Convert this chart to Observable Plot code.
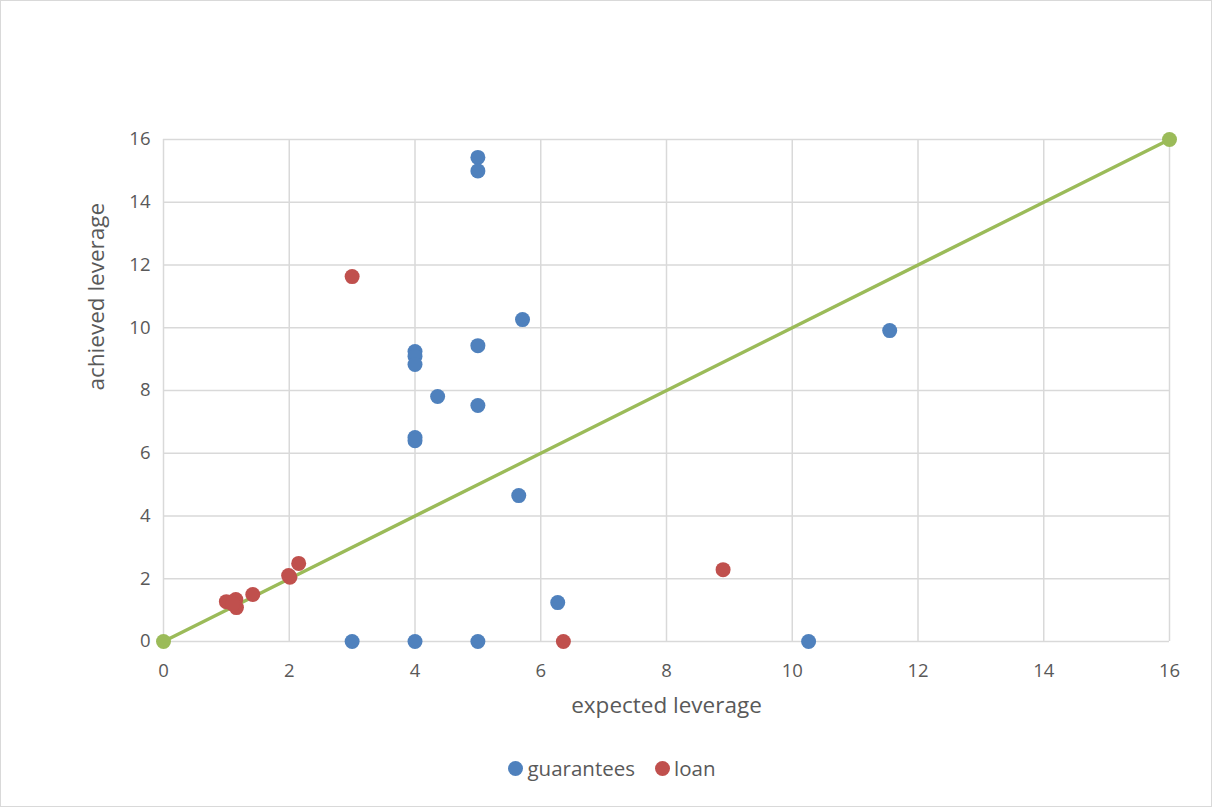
<!DOCTYPE html>
<html>
<head>
<meta charset="utf-8">
<script src="https://cdn.jsdelivr.net/npm/d3@7"></script>
<script src="https://cdn.jsdelivr.net/npm/@observablehq/plot@0.6"></script>
<style>
  html, body { margin: 0; padding: 0; background: #fff; }
  #frame { width: 1212px; height: 807px; box-sizing: border-box; border: 1px solid #d9d9d9; background: #fff; font-family: "Open Sans", sans-serif; }
  #legend { height: 44px; display: flex; justify-content: center; align-items: center; gap: 20px; font-size: 20.5px; color: #595959; padding-left: 12px; box-sizing: border-box; }
  .item { display: flex; align-items: center; gap: 4px; }
  .sw { width: 15px; height: 15px; border-radius: 50%; display: inline-block; }
</style>
</head>
<body>
<div id="frame">
  <div id="chart"></div>
  <div id="legend"></div>
</div>
<script>
const guaranteesX = [5, 5, 5.71, 11.55, 5, 4, 4, 4, 4.36, 5, 4, 4, 5.65, 6.27, 3, 4, 5, 10.26];
const guaranteesY = [15.43, 15.0, 10.26, 9.91, 9.43, 9.24, 9.08, 8.83, 7.81, 7.52, 6.5, 6.4, 4.65, 1.24, 0, 0, 0, 0];
const loanX = [1.0, 1.15, 1.16, 1.1, 1.42, 1.99, 2.01, 2.15, 3.0, 8.9, 6.36];
const loanY = [1.27, 1.34, 1.08, 1.2, 1.5, 2.1, 2.05, 2.49, 11.63, 2.29, 0];
const lineX = [0, 16];
const lineY = [0, 16];
const ticks = [0, 2, 4, 6, 8, 10, 12, 14, 16];
const seriesNames = ["guarantees", "loan"];
const colors = ["#4F81BD", "#C0504D"];
const lineColor = "#9BBB59";

const guarantees = guaranteesX.map((x, i) => ({x, y: guaranteesY[i]}));
const loan = loanX.map((x, i) => ({x, y: loanY[i]}));
const line = lineX.map((x, i) => ({x, y: lineY[i]}));

const chart = Plot.plot({
  width: 1210,
  height: 745,
  marginLeft: 162,
  marginRight: 42,
  marginTop: 138,
  marginBottom: 105,
  style: { fontFamily: "Open Sans, sans-serif", background: "#fff" },
  x: { domain: [0, 16] },
  y: { domain: [0, 16] },
  marks: [
    Plot.gridX(ticks, { stroke: "#d9d9d9", strokeOpacity: 1, strokeWidth: 1.5 }),
    Plot.gridY(ticks, { stroke: "#d9d9d9", strokeOpacity: 1, strokeWidth: 1.5 }),
    Plot.axisX(ticks, { tickSize: 0, tickPadding: 22, fontSize: 18.5, fill: "#595959", label: null }),
    Plot.axisY(ticks, { tickSize: 0, tickPadding: 13, fontSize: 18.5, fill: "#595959", label: null }),
    Plot.text(["expected leverage"], { frameAnchor: "bottom", dy: 71, fontSize: 22.5, fill: "#595959" }),
    Plot.text(["achieved leverage"], { frameAnchor: "left", dx: -67, rotate: -90, fontSize: 22.5, fill: "#595959" }),
    Plot.line(line, { x: "x", y: "y", stroke: lineColor, strokeWidth: 3.5 }),
    Plot.dot(line, { x: "x", y: "y", r: 7.5, fill: lineColor }),
    Plot.dot(guarantees, { x: "x", y: "y", r: 7.5, fill: colors[0] }),
    Plot.dot(loan, { x: "x", y: "y", r: 7.5, fill: colors[1] })
  ]
});
document.getElementById("chart").appendChild(chart);

const legend = document.getElementById("legend");
seriesNames.forEach((name, i) => {
  const item = document.createElement("div");
  item.className = "item";
  const sw = document.createElement("span");
  sw.className = "sw";
  sw.style.background = colors[i];
  const t = document.createElement("span");
  t.textContent = name;
  item.appendChild(sw);
  item.appendChild(t);
  legend.appendChild(item);
});
</script>
</body>
</html>
